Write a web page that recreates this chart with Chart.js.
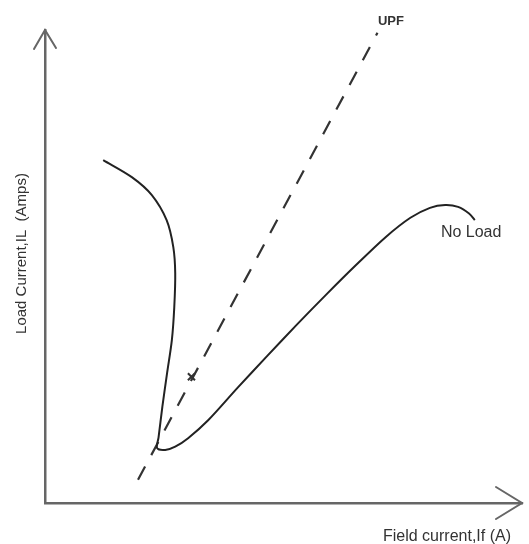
<!DOCTYPE html>
<html>
<head>
<meta charset="utf-8">
<script src="https://cdn.jsdelivr.net/npm/chart.js@4.4.1/dist/chart.umd.min.js"></script>
<style>
html,body{margin:0;padding:0;background:#fff;}
canvas{display:block;}
</style>
</head>
<body>
<canvas id="c" width="529" height="544"></canvas>
<script>
// V-curve (No Load) : field current vs load current (arbitrary units)
const vCurveX = [1.22, 1.82, 2.24, 2.55, 2.69, 2.73, 2.71, 2.66, 2.56, 2.46, 2.38, 2.35, 2.52, 2.73, 3.00, 3.42, 4.04, 4.66, 5.28, 5.90, 6.52, 7.14, 7.66, 8.07, 8.39, 8.66, 8.89, 9.01];
const vCurveY = [7.25, 6.89, 6.51, 5.98, 5.41, 4.86, 4.14, 3.45, 2.75, 2.03, 1.38, 1.16, 1.12, 1.19, 1.37, 1.75, 2.44, 3.11, 3.77, 4.41, 5.03, 5.62, 6.03, 6.24, 6.30, 6.26, 6.12, 5.98];
// UPF (unity power factor) locus
const upfX = [1.95, 6.97];
const upfY = [0.49, 9.94];
// marked point on UPF line
const markX = [3.07];
const markY = [2.67];
// text labels and their anchor values
const labelTexts = ["UPF", "No Load"];
const labelX = [6.98, 8.3];
const labelY = [10.18, 5.71];
const xTitle = "Field current,If (A)";
const yTitle = "Load Current,IL  (Amps)";

const toPts = (xs, ys) => xs.map((x, i) => ({x: x, y: ys[i]}));

const ink = '#222';
const axisColor = '#666';
const textColor = '#333';

const decorPlugin = {
  id: 'decor',
  afterDraw(chart) {
    const ctx = chart.ctx;
    const a = chart.chartArea;
    const xs = chart.scales.x, ys = chart.scales.y;
    ctx.save();
    // arrow heads
    ctx.strokeStyle = axisColor;
    ctx.lineWidth = 2;
    ctx.lineCap = 'round';
    ctx.beginPath();
    ctx.moveTo(a.left - 11, a.top + 19);
    ctx.lineTo(a.left, a.top);
    ctx.lineTo(a.left + 11, a.top + 18);
    ctx.moveTo(a.right - 26, a.bottom - 16);
    ctx.lineTo(a.right, a.bottom);
    ctx.lineTo(a.right - 26, a.bottom + 16);
    ctx.stroke();
    // curve labels
    ctx.fillStyle = textColor;
    ctx.textBaseline = 'middle';
    ctx.textAlign = 'left';
    labelTexts.forEach((t, i) => {
      ctx.font = (i === 0 ? 'bold 13px' : '16px') + ' "Liberation Sans", Arial, sans-serif';
      ctx.fillText(t, xs.getPixelForValue(labelX[i]), ys.getPixelForValue(labelY[i]));
    });
    // axis titles
    ctx.font = '16px "Liberation Sans", Arial, sans-serif';
    ctx.textAlign = 'right';
    ctx.textBaseline = 'alphabetic';
    ctx.fillText(xTitle, a.right - 11, a.bottom + 38);
    ctx.font = '15px "Liberation Sans", Arial, sans-serif';
    ctx.translate(a.left - 23, (a.top + a.bottom) / 2 - 13);
    ctx.rotate(-Math.PI / 2);
    ctx.textAlign = 'center';
    ctx.textBaseline = 'middle';
    ctx.fillText(yTitle, 0, 0);
    ctx.restore();
  }
};

new Chart(document.getElementById('c'), {
  type: 'scatter',
  data: {
    datasets: [
      {
        label: 'No Load',
        data: toPts(vCurveX, vCurveY),
        showLine: true,
        borderColor: ink,
        borderWidth: 2,
        pointRadius: 0,
        tension: 0.3,
        clip: false
      },
      {
        label: 'UPF',
        data: toPts(upfX, upfY),
        showLine: true,
        borderColor: '#333',
        borderWidth: 2.2,
        borderDash: [15, 13],
        pointRadius: 0,
        clip: false
      },
      {
        label: 'mark',
        data: toPts(markX, markY),
        pointStyle: 'crossRot',
        pointRadius: 5,
        borderColor: '#333',
        borderWidth: 2,
        clip: false
      }
    ]
  },
  options: {
    responsive: false,
    devicePixelRatio: 1,
    animation: false,
    layout: { padding: { left: 45, right: 1, top: 30, bottom: 41 } },
    plugins: { legend: { display: false }, tooltip: { enabled: false } },
    scales: {
      x: {
        type: 'linear', min: 0, max: 10,
        ticks: { display: false },
        grid: { display: false, drawTicks: false },
        border: { display: true, color: axisColor, width: 2.5 }
      },
      y: {
        type: 'linear', min: 0, max: 10,
        ticks: { display: false },
        grid: { display: false, drawTicks: false },
        border: { display: true, color: axisColor, width: 2.5 }
      }
    }
  },
  plugins: [decorPlugin]
});
</script>
</body>
</html>
